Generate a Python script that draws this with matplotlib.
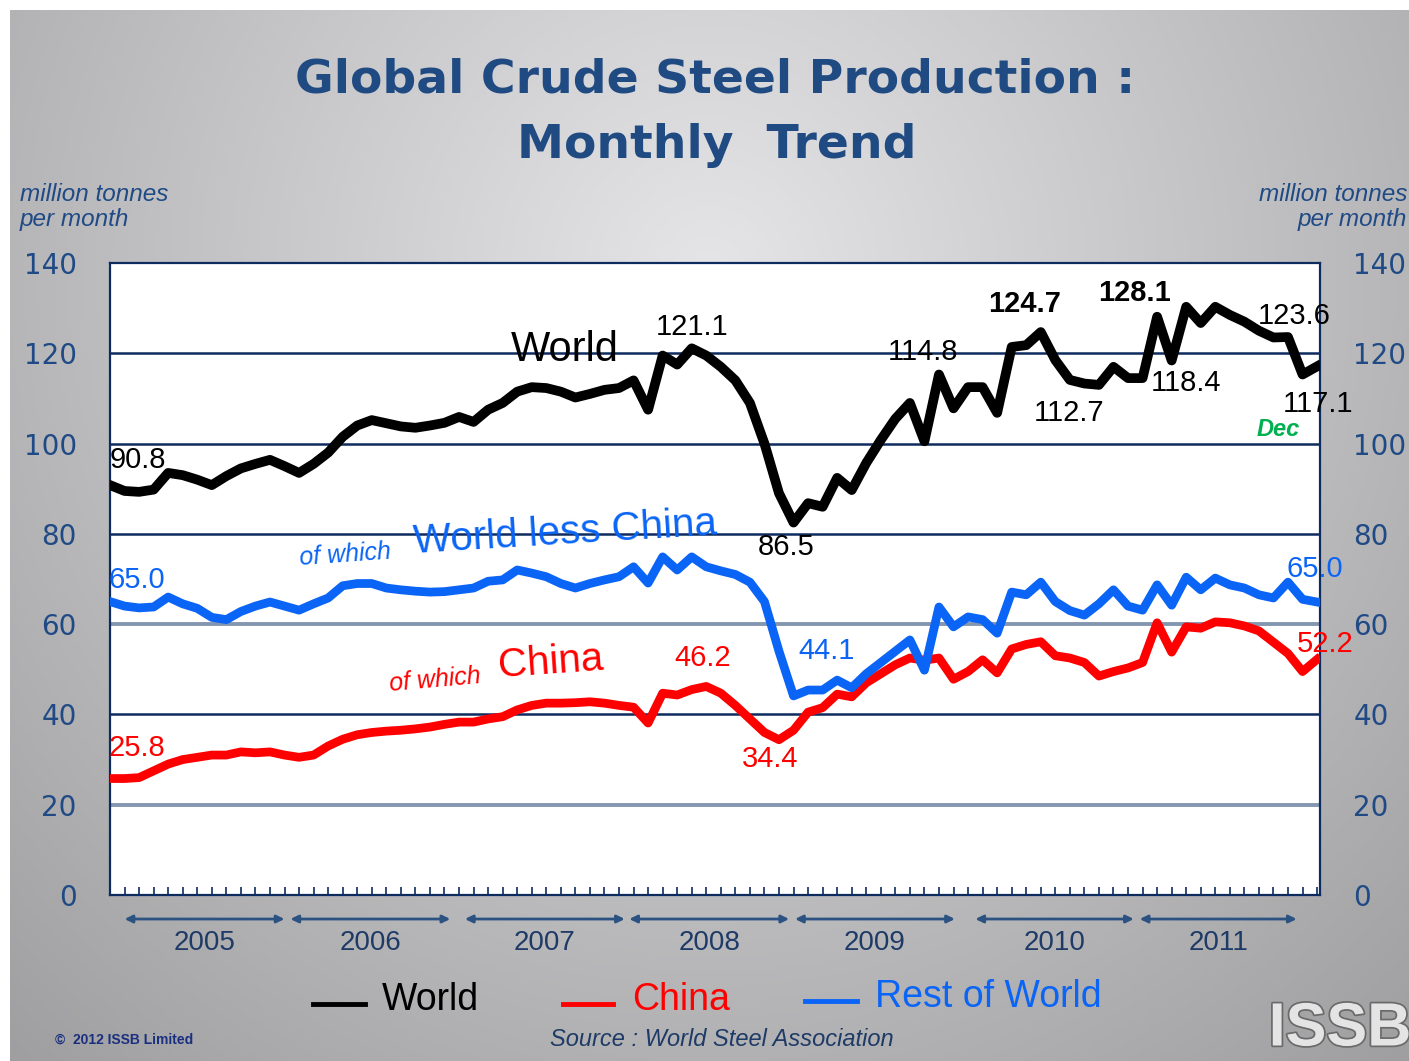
import numpy as np
import matplotlib.pyplot as plt
from matplotlib.lines import Line2D
import matplotlib.patheffects as pe

W, H = 1409, 1061

years = ['2005', '2006', '2007', '2008', '2009', '2010', '2011']
months = np.arange(84)

# monthly production, million tonnes
world = [
    90.8, 89.5, 89.3, 89.8, 93.5, 93.0, 92.0, 90.8, 92.8, 94.5, 95.5, 96.4,
    95.0, 93.5, 95.5, 98.0, 101.5, 104.0, 105.2, 104.5, 103.8, 103.5, 104.0, 104.6,
    105.9, 104.8, 107.5, 109.0, 111.5, 112.5, 112.3, 111.5, 110.2, 111.0, 111.9, 112.3,
    114.0, 107.5, 119.5, 117.5, 121.1, 119.5, 117.0, 114.0, 109.0, 100.0, 89.0, 82.5,
    86.8, 86.0, 92.4, 89.7, 95.7, 100.8, 105.5, 109.0, 100.5, 115.3, 107.8, 112.5,
    112.5, 106.8, 121.4, 121.8, 124.7, 118.5, 114.1, 113.3, 113.0, 117.0, 114.5, 114.5,
    128.1, 118.4, 130.3, 126.7, 130.3, 128.5, 127.0, 125.0, 123.5, 123.6, 115.3, 117.1,
]
china = [
    25.8, 25.8, 26.0, 27.5, 29.0, 30.0, 30.5, 31.0, 31.0, 31.7, 31.5, 31.7,
    31.0, 30.5, 31.0, 33.0, 34.5, 35.5, 36.0, 36.3, 36.5, 36.8, 37.2, 37.8,
    38.3, 38.3, 39.0, 39.5, 41.0, 42.0, 42.5, 42.5, 42.6, 42.8, 42.5, 42.0,
    41.6, 38.1, 44.7, 44.3, 45.5, 46.2, 44.7, 42.0, 39.0, 36.0, 34.4, 36.5,
    40.5, 41.5, 44.5, 43.9, 47.0, 49.0, 51.0, 52.5, 52.0, 52.5, 47.8, 49.5,
    52.1, 49.2, 54.5, 55.5, 56.1, 53.0, 52.5, 51.5, 48.5, 49.5, 50.3, 51.5,
    60.3, 53.8, 59.4, 59.1, 60.5, 60.3, 59.6, 58.5, 56.0, 53.5, 49.5, 52.2,
]
rest_of_world = [
    65.0, 64.0, 63.6, 63.8, 66.0, 64.5, 63.5, 61.5, 61.0, 62.8, 64.0, 64.9,
    64.0, 63.1, 64.5, 65.8, 68.5, 69.0, 69.0, 68.0, 67.6, 67.3, 67.1, 67.2,
    67.6, 68.0, 69.5, 69.8, 72.0, 71.3, 70.5, 69.0, 68.0, 69.0, 69.8, 70.5,
    72.7, 69.1, 74.9, 72.0, 74.9, 72.7, 71.8, 71.0, 69.3, 65.0, 54.0, 44.1,
    45.4, 45.4, 47.6, 45.9, 49.0, 51.5, 54.0, 56.5, 49.8, 63.8, 59.4, 61.6,
    61.0, 58.0, 67.1, 66.5, 69.3, 65.0, 63.0, 62.0, 64.5, 67.6, 64.0, 63.1,
    68.7, 64.2, 70.4, 67.6, 70.2, 68.7, 68.0, 66.5, 65.8, 69.3, 65.5, 64.9,
]

NAVY = '#0d2b5e'
TXT = '#1f4a85'
BLUE = '#0a64f5'
RED = '#ff0000'


def px(x, y):
    return x / W, 1 - y / H


fig = plt.figure(figsize=(W / 100, H / 100), dpi=100)
fig.patch.set_facecolor('white')

# grey radial background
bg = fig.add_axes([10 / W, 0, 1 - 10 / W, 1 - 10 / H])
yy, xx = np.mgrid[0:1:300j, 0:1:400j]
r = np.sqrt(((xx - 0.5) / 0.7) ** 2 + ((yy - 0.25) / 0.95) ** 2)
shade = np.clip(0.90 - 0.26 * r, 0.62, 0.90)
bg.imshow(np.dstack([shade, shade, np.clip(shade * 1.01, 0, 1)]), aspect='auto')
bg.axis('off')

ax = fig.add_axes([110 / W, 1 - 895 / H, 1210 / W, 632 / H])
ax.set_facecolor('white')
ax.set_xlim(0, 83.2)
ax.set_ylim(0, 140)

for v in [40, 80, 100, 120]:
    ax.axhline(v, color=NAVY, lw=1.8, zorder=1)
for v in [20, 60]:
    ax.axhline(v, color='#8496b0', lw=2.8, zorder=1)

ax.plot(months, china, color=RED, lw=6.3, solid_joinstyle='round', zorder=3)
ax.plot(months, rest_of_world, color=BLUE, lw=6.3, solid_joinstyle='round', zorder=4)
ax.plot(months, world, color='black', lw=7, solid_joinstyle='round', zorder=5)

for s in ax.spines.values():
    s.set_color(NAVY)
    s.set_linewidth(1.6)

ax.set_yticks(range(0, 141, 20))
ax.tick_params(axis='y', length=0, pad=24, labelsize=20, labelcolor=TXT,
               labelright=True)
ax.set_xticks(months)
ax.set_xticklabels([])
ax.tick_params(axis='x', direction='in', length=6, width=1.2, color=NAVY)

# year arrows under the axis
arrow_start = [1.0, 12.4, 24.4, 35.7, 47.1, 59.5, 70.8]
arrow_end = [12.0, 23.4, 35.4, 46.7, 58.1, 70.4, 81.6]
for yr, a, b in zip(years, arrow_start, arrow_end):
    ax.annotate('', xy=(b, -0.038), xytext=(a, -0.038),
                xycoords=('data', 'axes fraction'),
                arrowprops=dict(arrowstyle='<|-|>,head_length=0.45,head_width=0.22',
                                color='#2c5282', lw=2, shrinkA=0, shrinkB=0),
                annotation_clip=False)
    ax.text((a + b) / 2, -0.076, yr, transform=ax.get_xaxis_transform(),
            ha='center', va='center', fontsize=20, color='#1e3a66',
            family='Liberation Sans', clip_on=False)

# title and unit labels
fig.text(*px(715, 80), 'Global Crude Steel Production :', ha='center', va='center',
         fontsize=34, weight='bold', color='#1f4a82', family='DejaVu Sans')
fig.text(*px(717, 145), 'Monthly  Trend', ha='center', va='center',
         fontsize=34, weight='bold', color='#1f4a82', family='DejaVu Sans')
fig.text(*px(20, 207), 'million tonnes\nper month', ha='left', va='center',
         fontsize=17.5, style='italic', color=TXT, linespacing=1.15,
         family='Liberation Sans')
fig.text(*px(1407, 207), 'million tonnes\nper month', ha='right', va='center',
         fontsize=17.5, style='italic', color=TXT, linespacing=1.15,
         family='Liberation Sans')

# value labels
labels = [
    (110, 460, '90.8', 'black', 'normal', 'left'),
    (692, 327, '121.1', 'black', 'normal', 'center'),
    (786, 547, '86.5', 'black', 'normal', 'center'),
    (923, 352, '114.8', 'black', 'normal', 'center'),
    (1025, 304, '124.7', 'black', 'bold', 'center'),
    (1135, 293, '128.1', 'black', 'bold', 'center'),
    (1294, 316, '123.6', 'black', 'normal', 'center'),
    (1186, 383, '118.4', 'black', 'normal', 'center'),
    (1069, 413, '112.7', 'black', 'normal', 'center'),
    (1318, 404, '117.1', 'black', 'normal', 'center'),
    (108, 580, '65.0', BLUE, 'normal', 'left'),
    (1315, 569, '65.0', BLUE, 'normal', 'center'),
    (827, 651, '44.1', BLUE, 'normal', 'center'),
    (703, 658, '46.2', RED, 'normal', 'center'),
    (770, 759, '34.4', RED, 'normal', 'center'),
    (1325, 644, '52.2', RED, 'normal', 'center'),
    (108, 748, '25.8', RED, 'normal', 'left'),
]
for x, y, s, c, w, ha in labels:
    fig.text(*px(x, y), s, ha=ha, va='center', fontsize=21, color=c, weight=w,
             family='Liberation Sans', zorder=10)

fig.text(*px(1278, 430), 'Dec', ha='center', va='center', fontsize=17,
         color='#00b050', weight='bold', style='italic', family='Liberation Sans')
fig.text(*px(565, 350), 'World', ha='center', va='center', fontsize=30,
         color='black', family='Liberation Sans')
fig.text(*px(345, 555), 'of which', ha='center', va='center', fontsize=18,
         color=BLUE, style='italic', rotation=4, family='Liberation Sans')
fig.text(*px(565, 533), 'World less China', ha='center', va='center', fontsize=29,
         color=BLUE, rotation=3.5, family='Liberation Sans')
fig.text(*px(435, 680), 'of which', ha='center', va='center', fontsize=18,
         color=RED, style='italic', rotation=5, family='Liberation Sans')
fig.text(*px(551, 662), 'China', ha='center', va='center', fontsize=29,
         color=RED, rotation=4, family='Liberation Sans')

# legend
legend_items = [(313, 365, 382, 1000, 'World', 'black'),
                (563, 613, 632, 1000, 'China', RED),
                (805, 857, 875, 997, 'Rest of World', BLUE)]
for x0, x1, tx, y, s, c in legend_items:
    fig.add_artist(Line2D([x0 / W, x1 / W], [1 - (y + 4) / H] * 2, color=c, lw=3.5))
    fig.text(*px(tx, y), s, ha='left', va='center', fontsize=27, color=c,
             family='Liberation Sans')

# footer
fig.text(*px(55, 1040), '\u00a9  2012 ISSB Limited', ha='left', va='center',
         fontsize=10, weight='bold', color='#1a2f80', family='Liberation Sans')
fig.text(*px(722, 1040), 'Source : World Steel Association', ha='center', va='center',
         fontsize=17, style='italic', color='#1e3a66', family='Liberation Sans')
fig.text(*px(1340, 1030), 'ISSB', ha='center', va='center', fontsize=44,
         weight='bold', color='#e4e4e4', family='Liberation Sans',
         path_effects=[pe.withStroke(linewidth=2.5, foreground='#6a6a6a')])

fig.savefig('out.png', dpi=100)
